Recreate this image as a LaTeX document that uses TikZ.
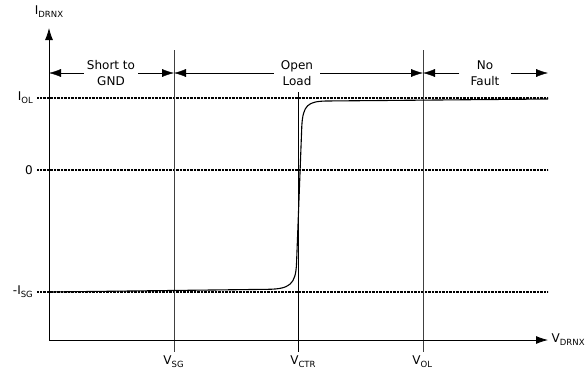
\documentclass[tikz,border=0pt]{standalone}
\usepackage{fontspec}
\setmainfont{DejaVu Sans}
\usetikzlibrary{arrows.meta}
\newcommand{\sub}[1]{\raisebox{-0.45ex}{\fontsize{8.5}{10}\selectfont #1}}
\begin{document}
\begin{tikzpicture}[x=1pt,y=-1pt,>={Latex[length=12pt,width=8pt]},
		font=\fontsize{12}{15.5}\selectfont,
		lvl/.style={line width=1.7pt, dash pattern=on 0.9pt off 0.5pt},
		lim/.style={draw=black!75, line width=0.8pt},
		vlab/.style={anchor=north west, xshift=-11pt, inner xsep=0pt},
		band/.style={align=center, inner xsep=5pt, inner ysep=2pt}]
	\useasboundingbox (0,0) rectangle (588,373);
	\coordinate (O) at (49,340);
	\coordinate (yend) at (49,28);
	\coordinate (xend) at (548,340);
	\coordinate (sgtop) at (174,50);
	\coordinate (ctrtop) at (298,92);
	\coordinate (oltop) at (423,50);
	\draw[lvl] (37,98) node[left] (iol) {I\sub{OL}} -- (548,98);
	\draw[lvl] (37,170) node[left] (zero) {0} -- (548,170);
	\draw[lvl] (37,292) node[left] (isg) {-I\sub{SG}} -- (548,292);
	\draw[lim] (sgtop) -- (174,352) node[vlab] (vsg) {V\sub{SG}};
	\draw[line width=0.6pt] (ctrtop) -- (298,352) node[vlab,xshift=3pt] (vctr) {V\sub{CTR}};
	\draw[lim] (oltop) -- (423,352) node[vlab] (vol) {V\sub{OL}};
	\draw[line width=0.8pt,->] (O) -- (yend) node[above=7pt] (ylab) {I\sub{DRNX}};
	\draw[line width=0.8pt,->] (O) -- (xend) node[right] (xlab) {V\sub{DRNX}};
	\draw[line width=1.1pt] (49,292) -- (268,289.3) .. controls (290,289) and (295.5,284) .. (296.5,264)
		-- (301.8,126) .. controls (303,105) and (308,101.5) .. (326,101) -- (548,99);
	\node[band,inner xsep=3pt] (sgtxt) at (111,73) {Short to\\GND};
	\node[band,inner xsep=7pt] (oltxt) at (297,73) {Open\\Load};
	\node[band,inner xsep=11pt] (nftxt) at (485,73) {No\\Fault};
	\draw[->] (sgtxt) -- (sgtxt -| O);
	\draw[->] (sgtxt) -- (sgtxt -| sgtop);
	\draw[->] (oltxt) -- (oltxt -| sgtop);
	\draw[->] (oltxt) -- (oltxt -| oltop);
	\draw[->] (nftxt) -- (nftxt -| oltop);
	\draw[->] (nftxt) -- (nftxt -| xend);
\end{tikzpicture}
\end{document}
